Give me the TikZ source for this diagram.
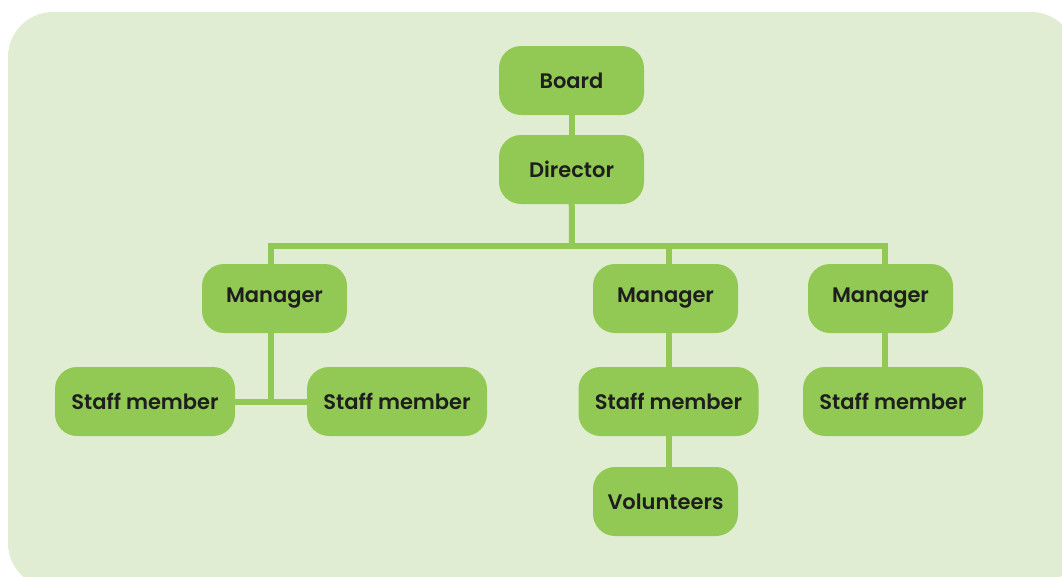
\documentclass[tikz,border=0pt]{standalone}
\usepackage{fontspec}
\setmainfont{Poppins}[UprightFont=* SemiBold]
\usepackage{xcolor}
\usepackage{tikz}
\usetikzlibrary{positioning}
\definecolor{leaf}{HTML}{92C954}
\definecolor{paper}{HTML}{E1EDD2}
\definecolor{ink}{HTML}{1E1E1E}

\begin{document}
\begin{tikzpicture}[
    x=1pt,y=-1pt,
    role/.style={fill=leaf,rounded corners=22pt,align=center,minimum width=145pt,minimum height=69pt,text=ink,font=\fontsize{21}{25}\selectfont},
    staff/.style={role,minimum width=180pt},
    link/.style={draw=leaf,line width=6pt}
]
\useasboundingbox (0,0) rectangle (1062,576);
\fill[paper,rounded corners=45pt] (8,12) rectangle (1076,588);

% junctions on the bus line
\coordinate (bus) at (572,246);
\coordinate (jA) at (271,246);
\coordinate (jB) at (669,246);
\coordinate (jC) at (885,246);

\node[role] (board) at (571.5,80.5) {Board};
\node[role] (director) at (571.5,169.5) {Director};
\node[role] (mgrA) at (274.5,298.5) {Manager};
\node[role] (mgrB) at (665.5,298.5) {Manager};
\node[role] (mgrC) at (880.5,298.5) {Manager};
\node[staff] (staffL) at (145,401.5) {Staff member};
\node[staff] (staffR) at (397,401.5) {Staff member};
\node[staff] (staffB) at (668.5,401.5) {Staff member};
\node[staff] (staffC) at (893,401.5) {Staff member};
\node[role] (vol) at (665.5,501.5) {Volunteers};

\draw[link] (board) -- (director);
\draw[link] (director) -- (bus);
\draw[link] ([xshift=-3pt]jA) -- ([xshift=3pt]jC);
\draw[link] ([yshift=3pt]jA) -- (mgrA.north -| jA);
\draw[link] ([yshift=3pt]jB) -- (mgrB.north -| jB);
\draw[link] ([yshift=3pt]jC) -- (mgrC.north -| jC);
\draw[link] (mgrA.south -| jA) -- ([yshift=-3pt]jA |- staffL.east);
\draw[link] (staffL.east) -- (staffR.west);
\draw[link] (mgrB.south -| jB) -- (staffB.north -| jB);
\draw[link] (staffB.south -| jB) -- (vol.north -| jB);
\draw[link] (mgrC.south -| jC) -- (staffC.north -| jC);
\end{tikzpicture}
\end{document}
